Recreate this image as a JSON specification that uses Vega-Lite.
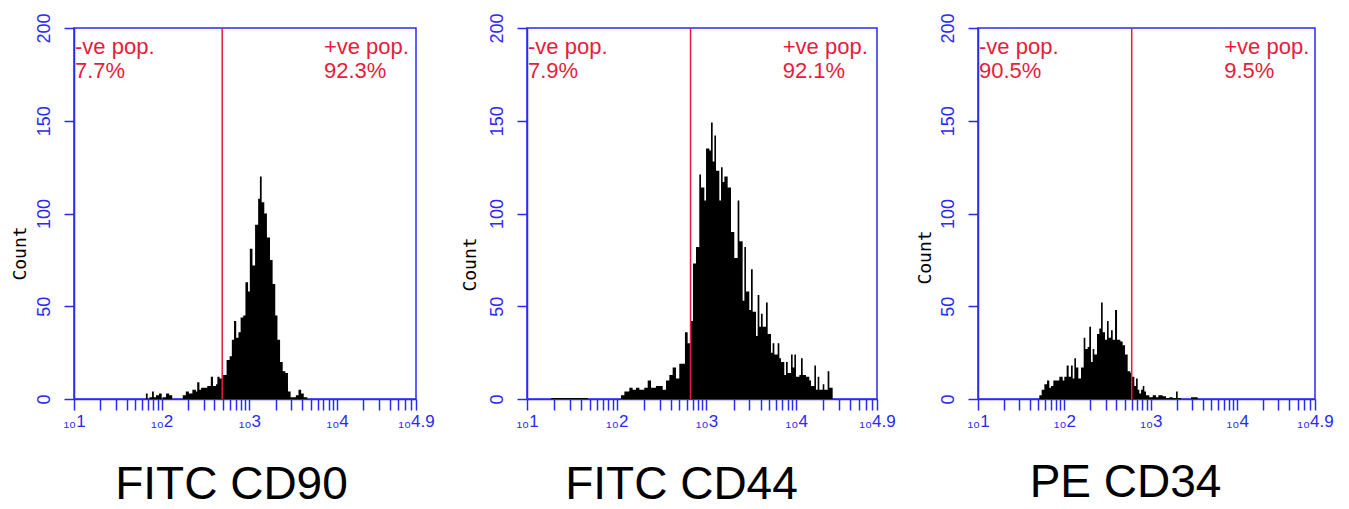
{
  "$schema": "https://vega.github.io/schema/vega-lite/v6.json",
  "padding": {"left": 10, "top": 12, "right": 0, "bottom": 0},
  "background": "white",
  "datasets": {
    "cd90": [
      {"log_intensity": 1.80, "count": 0}, {"log_intensity": 1.82, "count": 3}, {"log_intensity": 1.84, "count": 0},
      {"log_intensity": 1.86, "count": 1}, {"log_intensity": 1.89, "count": 4}, {"log_intensity": 1.91, "count": 1},
      {"log_intensity": 1.935, "count": 2}, {"log_intensity": 1.97, "count": 3}, {"log_intensity": 2.00, "count": 0},
      {"log_intensity": 2.01, "count": 1}, {"log_intensity": 2.05, "count": 3}, {"log_intensity": 2.085, "count": 2},
      {"log_intensity": 2.12, "count": 0}, {"log_intensity": 2.24, "count": 2}, {"log_intensity": 2.275, "count": 4},
      {"log_intensity": 2.31, "count": 3}, {"log_intensity": 2.35, "count": 5}, {"log_intensity": 2.39, "count": 4},
      {"log_intensity": 2.405, "count": 9}, {"log_intensity": 2.43, "count": 5}, {"log_intensity": 2.45, "count": 6},
      {"log_intensity": 2.49, "count": 6}, {"log_intensity": 2.52, "count": 7}, {"log_intensity": 2.56, "count": 12},
      {"log_intensity": 2.585, "count": 7}, {"log_intensity": 2.62, "count": 8}, {"log_intensity": 2.635, "count": 12},
      {"log_intensity": 2.66, "count": 11}, {"log_intensity": 2.70, "count": 13}, {"log_intensity": 2.74, "count": 21},
      {"log_intensity": 2.775, "count": 23}, {"log_intensity": 2.80, "count": 32}, {"log_intensity": 2.825, "count": 42},
      {"log_intensity": 2.85, "count": 33}, {"log_intensity": 2.875, "count": 36}, {"log_intensity": 2.90, "count": 44},
      {"log_intensity": 2.93, "count": 45}, {"log_intensity": 2.955, "count": 63}, {"log_intensity": 2.985, "count": 58},
      {"log_intensity": 3.005, "count": 81}, {"log_intensity": 3.035, "count": 72}, {"log_intensity": 3.065, "count": 94},
      {"log_intensity": 3.10, "count": 108}, {"log_intensity": 3.12, "count": 120}, {"log_intensity": 3.14, "count": 106},
      {"log_intensity": 3.17, "count": 100}, {"log_intensity": 3.20, "count": 87}, {"log_intensity": 3.235, "count": 75},
      {"log_intensity": 3.265, "count": 62}, {"log_intensity": 3.295, "count": 45}, {"log_intensity": 3.32, "count": 32},
      {"log_intensity": 3.35, "count": 20}, {"log_intensity": 3.38, "count": 15}, {"log_intensity": 3.41, "count": 14},
      {"log_intensity": 3.44, "count": 4}, {"log_intensity": 3.47, "count": 1}, {"log_intensity": 3.53, "count": 2},
      {"log_intensity": 3.56, "count": 5}, {"log_intensity": 3.59, "count": 3}, {"log_intensity": 3.62, "count": 1},
      {"log_intensity": 3.66, "count": 0}
    ],
    "cd44": [
      {"log_intensity": 1.27, "count": 0.6}, {"log_intensity": 1.68, "count": 0}, {"log_intensity": 2.047, "count": 2},
      {"log_intensity": 2.085, "count": 4}, {"log_intensity": 2.14, "count": 6}, {"log_intensity": 2.177, "count": 5},
      {"log_intensity": 2.214, "count": 6}, {"log_intensity": 2.252, "count": 5}, {"log_intensity": 2.307, "count": 6},
      {"log_intensity": 2.345, "count": 10}, {"log_intensity": 2.382, "count": 6}, {"log_intensity": 2.437, "count": 7},
      {"log_intensity": 2.474, "count": 7}, {"log_intensity": 2.512, "count": 5}, {"log_intensity": 2.549, "count": 10},
      {"log_intensity": 2.586, "count": 13}, {"log_intensity": 2.623, "count": 17}, {"log_intensity": 2.66, "count": 11},
      {"log_intensity": 2.697, "count": 19}, {"log_intensity": 2.735, "count": 19}, {"log_intensity": 2.76, "count": 36},
      {"log_intensity": 2.79, "count": 30}, {"log_intensity": 2.828, "count": 42}, {"log_intensity": 2.85, "count": 73},
      {"log_intensity": 2.883, "count": 82}, {"log_intensity": 2.92, "count": 121}, {"log_intensity": 2.939, "count": 114},
      {"log_intensity": 2.976, "count": 107}, {"log_intensity": 2.995, "count": 135}, {"log_intensity": 3.032, "count": 134},
      {"log_intensity": 3.05, "count": 149}, {"log_intensity": 3.069, "count": 128}, {"log_intensity": 3.088, "count": 142},
      {"log_intensity": 3.106, "count": 123}, {"log_intensity": 3.143, "count": 107}, {"log_intensity": 3.162, "count": 125},
      {"log_intensity": 3.18, "count": 117}, {"log_intensity": 3.199, "count": 120}, {"log_intensity": 3.236, "count": 114},
      {"log_intensity": 3.273, "count": 90}, {"log_intensity": 3.31, "count": 76}, {"log_intensity": 3.347, "count": 107},
      {"log_intensity": 3.366, "count": 85}, {"log_intensity": 3.403, "count": 53}, {"log_intensity": 3.422, "count": 82},
      {"log_intensity": 3.44, "count": 58}, {"log_intensity": 3.477, "count": 48}, {"log_intensity": 3.496, "count": 70},
      {"log_intensity": 3.515, "count": 47}, {"log_intensity": 3.552, "count": 34}, {"log_intensity": 3.57, "count": 56},
      {"log_intensity": 3.589, "count": 39}, {"log_intensity": 3.607, "count": 46}, {"log_intensity": 3.626, "count": 39},
      {"log_intensity": 3.663, "count": 52}, {"log_intensity": 3.682, "count": 35}, {"log_intensity": 3.719, "count": 25},
      {"log_intensity": 3.737, "count": 30}, {"log_intensity": 3.756, "count": 24}, {"log_intensity": 3.793, "count": 30},
      {"log_intensity": 3.812, "count": 22}, {"log_intensity": 3.83, "count": 20}, {"log_intensity": 3.867, "count": 13},
      {"log_intensity": 3.886, "count": 20}, {"log_intensity": 3.905, "count": 14}, {"log_intensity": 3.942, "count": 24},
      {"log_intensity": 3.96, "count": 17}, {"log_intensity": 3.979, "count": 24}, {"log_intensity": 3.997, "count": 12},
      {"log_intensity": 4.035, "count": 13}, {"log_intensity": 4.053, "count": 22}, {"log_intensity": 4.072, "count": 13},
      {"log_intensity": 4.109, "count": 12}, {"log_intensity": 4.146, "count": 10}, {"log_intensity": 4.165, "count": 7},
      {"log_intensity": 4.202, "count": 18}, {"log_intensity": 4.22, "count": 5}, {"log_intensity": 4.239, "count": 12},
      {"log_intensity": 4.257, "count": 5}, {"log_intensity": 4.295, "count": 8}, {"log_intensity": 4.313, "count": 5},
      {"log_intensity": 4.35, "count": 15}, {"log_intensity": 4.369, "count": 6}, {"log_intensity": 4.406, "count": 0}
    ],
    "cd34": [
      {"log_intensity": 1.71, "count": 2}, {"log_intensity": 1.737, "count": 5}, {"log_intensity": 1.768, "count": 8},
      {"log_intensity": 1.799, "count": 10}, {"log_intensity": 1.825, "count": 6}, {"log_intensity": 1.845, "count": 7},
      {"log_intensity": 1.872, "count": 10}, {"log_intensity": 1.903, "count": 10}, {"log_intensity": 1.941, "count": 12},
      {"log_intensity": 1.98, "count": 10}, {"log_intensity": 1.999, "count": 12}, {"log_intensity": 2.026, "count": 18},
      {"log_intensity": 2.049, "count": 12}, {"log_intensity": 2.076, "count": 18}, {"log_intensity": 2.096, "count": 11},
      {"log_intensity": 2.115, "count": 22}, {"log_intensity": 2.134, "count": 17}, {"log_intensity": 2.161, "count": 11},
      {"log_intensity": 2.192, "count": 17}, {"log_intensity": 2.223, "count": 33}, {"log_intensity": 2.242, "count": 27},
      {"log_intensity": 2.269, "count": 28}, {"log_intensity": 2.288, "count": 39}, {"log_intensity": 2.308, "count": 20},
      {"log_intensity": 2.327, "count": 27}, {"log_intensity": 2.346, "count": 24}, {"log_intensity": 2.377, "count": 35},
      {"log_intensity": 2.404, "count": 38}, {"log_intensity": 2.424, "count": 52}, {"log_intensity": 2.443, "count": 36},
      {"log_intensity": 2.47, "count": 32}, {"log_intensity": 2.493, "count": 42}, {"log_intensity": 2.512, "count": 33},
      {"log_intensity": 2.539, "count": 37}, {"log_intensity": 2.559, "count": 32}, {"log_intensity": 2.586, "count": 48},
      {"log_intensity": 2.609, "count": 32}, {"log_intensity": 2.647, "count": 31}, {"log_intensity": 2.674, "count": 29},
      {"log_intensity": 2.701, "count": 24}, {"log_intensity": 2.732, "count": 15}, {"log_intensity": 2.763, "count": 14},
      {"log_intensity": 2.782, "count": 12}, {"log_intensity": 2.809, "count": 7}, {"log_intensity": 2.829, "count": 11},
      {"log_intensity": 2.848, "count": 5}, {"log_intensity": 2.867, "count": 3}, {"log_intensity": 2.887, "count": 5},
      {"log_intensity": 2.906, "count": 7}, {"log_intensity": 2.925, "count": 4}, {"log_intensity": 2.944, "count": 2},
      {"log_intensity": 2.983, "count": 1}, {"log_intensity": 3.022, "count": 2}, {"log_intensity": 3.06, "count": 1},
      {"log_intensity": 3.087, "count": 2}, {"log_intensity": 3.137, "count": 1.5}, {"log_intensity": 3.176, "count": 0.5},
      {"log_intensity": 3.214, "count": 1}, {"log_intensity": 3.253, "count": 0.5}, {"log_intensity": 3.292, "count": 4},
      {"log_intensity": 3.311, "count": 0.5}, {"log_intensity": 3.349, "count": 0}, {"log_intensity": 3.465, "count": 1},
      {"log_intensity": 3.542, "count": 0}
    ],
    "gates": [
      {"marker": "FITC CD90", "gate": 2.69, "neg": 0.077, "pos": 0.923, "neg_at": 1, "pos_at": 3.85, "top": 200},
      {"marker": "FITC CD44", "gate": 2.822, "neg": 0.079, "pos": 0.921, "neg_at": 1, "pos_at": 3.85, "top": 200},
      {"marker": "PE CD34", "gate": 2.779, "neg": 0.905, "pos": 0.095, "neg_at": 1, "pos_at": 3.85, "top": 200}
    ]
  },
  "config": {
    "font": "Liberation Sans",
    "view": {"stroke": "#2a2af5", "strokeWidth": 1.5},
    "text": {"color": "#e81c3c", "fontSize": 22, "align": "left", "baseline": "alphabetic"},
    "axis": {
      "grid": false,
      "domainColor": "#2a2af5",
      "domainWidth": 1.5,
      "tickColor": "#2a2af5",
      "tickWidth": 1.5,
      "labelColor": "#2a2af5",
      "labelFont": "Liberation Sans",
      "titleColor": "black",
      "titleFontWeight": "normal"
    },
    "axisX": {
      "labelOverlap": false,
      "labelFlush": false,
      "labelBound": false,
      "labelFontSize": 17,
      "labelPadding": 3,
      "tickSize": 11,
      "titleFont": "Liberation Sans",
      "titleFontSize": 46,
      "titleAlign": "center",
      "titleBaseline": "alphabetic"
    },
    "axisY": {
      "labelAngle": 270,
      "labelAlign": "center",
      "labelBaseline": "bottom",
      "labelFontSize": 18,
      "labelPadding": 11,
      "tickSize": 10,
      "titleFont": "DejaVu Sans Mono",
      "titleFontSize": 18,
      "titleAngle": 270,
      "titleAlign": "center",
      "titleBaseline": "middle"
    }
  },
  "spacing": 111,
  "bounds": "flush",
  "hconcat": [
    {
      "width": 342,
      "height": 371,
      "encoding": {
        "x": {"field": "log_intensity", "type": "quantitative", "scale": {"domain": [1, 4.9], "nice": false, "zero": false},
          "axis": {"title": "FITC CD90", "titleX": 157, "titleY": 99,
            "values": [1, 1.301, 1.477, 1.602, 1.699, 1.778, 1.845, 1.903, 1.954, 2, 2.301, 2.477, 2.602, 2.699, 2.778, 2.845, 2.903, 2.954, 3, 3.301, 3.477, 3.602, 3.699, 3.778, 3.845, 3.903, 3.954, 4, 4.301, 4.477, 4.602, 4.699, 4.778, 4.845, 4.9],
            "labelExpr": "indexof([1, 2, 3, 4, 4.9], datum.value) >= 0 ? '₁₀' + datum.value : ''"}},
        "y": {"field": "count", "type": "quantitative", "scale": {"domain": [0, 200], "nice": false},
          "axis": {"title": "Count", "titleX": -54, "titleY": 225, "values": [0, 50, 100, 150, 200]}}
      },
      "layer": [
        {"data": {"name": "cd90"}, "mark": {"type": "area", "interpolate": "step-after", "color": "black"}},
        {
          "data": {"name": "gates"},
          "transform": [{"filter": "datum.marker == 'FITC CD90'"}, {"fold": ["gate"], "as": ["kind", "log_intensity"]}],
          "mark": {"type": "rule", "color": "#e81c3c", "strokeWidth": 1.5},
          "encoding": {"y": null}
        },
        {
          "data": {"name": "gates"},
          "transform": [{"filter": "datum.marker == 'FITC CD90'"}, {"fold": ["neg_at"], "as": ["side", "log_intensity"]}, {"fold": ["top"], "as": ["level", "count"]}],
          "layer": [
            {"mark": {"type": "text", "dx": 1, "dy": 26}, "encoding": {"text": {"value": "-ve pop."}}},
            {"mark": {"type": "text", "dx": 1, "dy": 50}, "encoding": {"text": {"field": "neg", "type": "quantitative", "format": ".1%"}}}
          ]
        },
        {
          "data": {"name": "gates"},
          "transform": [{"filter": "datum.marker == 'FITC CD90'"}, {"fold": ["pos_at"], "as": ["side", "log_intensity"]}, {"fold": ["top"], "as": ["level", "count"]}],
          "layer": [
            {"mark": {"type": "text", "dy": 26}, "encoding": {"text": {"value": "+ve pop."}}},
            {"mark": {"type": "text", "dy": 50}, "encoding": {"text": {"field": "pos", "type": "quantitative", "format": ".1%"}}}
          ]
        }
      ]
    },
    {
      "spacing": 101,
      "bounds": "flush",
      "hconcat": [
        {
          "width": 350,
          "height": 371,
          "encoding": {
            "x": {"field": "log_intensity", "type": "quantitative", "scale": {"domain": [1, 4.9], "nice": false, "zero": false},
              "axis": {"title": "FITC CD44", "titleX": 154, "titleY": 99,
                "values": [1, 1.301, 1.477, 1.602, 1.699, 1.778, 1.845, 1.903, 1.954, 2, 2.301, 2.477, 2.602, 2.699, 2.778, 2.845, 2.903, 2.954, 3, 3.301, 3.477, 3.602, 3.699, 3.778, 3.845, 3.903, 3.954, 4, 4.301, 4.477, 4.602, 4.699, 4.778, 4.845, 4.9],
                "labelExpr": "indexof([1, 2, 3, 4, 4.9], datum.value) >= 0 ? '₁₀' + datum.value : ''"}},
            "y": {"field": "count", "type": "quantitative", "scale": {"domain": [0, 200], "nice": false},
              "axis": {"title": "Count", "titleX": -57, "titleY": 236, "values": [0, 50, 100, 150, 200]}}
          },
          "layer": [
            {"data": {"name": "cd44"}, "mark": {"type": "area", "interpolate": "step-after", "color": "black"}},
            {
              "data": {"name": "gates"},
              "transform": [{"filter": "datum.marker == 'FITC CD44'"}, {"fold": ["gate"], "as": ["kind", "log_intensity"]}],
              "mark": {"type": "rule", "color": "#e81c3c", "strokeWidth": 1.5},
              "encoding": {"y": null}
            },
            {
              "data": {"name": "gates"},
              "transform": [{"filter": "datum.marker == 'FITC CD44'"}, {"fold": ["neg_at"], "as": ["side", "log_intensity"]}, {"fold": ["top"], "as": ["level", "count"]}],
              "layer": [
                {"mark": {"type": "text", "dx": 1, "dy": 26}, "encoding": {"text": {"value": "-ve pop."}}},
                {"mark": {"type": "text", "dx": 1, "dy": 50}, "encoding": {"text": {"field": "neg", "type": "quantitative", "format": ".1%"}}}
              ]
            },
            {
              "data": {"name": "gates"},
              "transform": [{"filter": "datum.marker == 'FITC CD44'"}, {"fold": ["pos_at"], "as": ["side", "log_intensity"]}, {"fold": ["top"], "as": ["level", "count"]}],
              "layer": [
                {"mark": {"type": "text", "dy": 26}, "encoding": {"text": {"value": "+ve pop."}}},
                {"mark": {"type": "text", "dy": 50}, "encoding": {"text": {"field": "pos", "type": "quantitative", "format": ".1%"}}}
              ]
            }
          ]
        },
        {
          "width": 337,
          "height": 371,
          "encoding": {
            "x": {"field": "log_intensity", "type": "quantitative", "scale": {"domain": [1, 4.9], "nice": false, "zero": false},
              "axis": {"title": "PE CD34", "titleX": 147, "titleY": 97,
                "values": [1, 1.301, 1.477, 1.602, 1.699, 1.778, 1.845, 1.903, 1.954, 2, 2.301, 2.477, 2.602, 2.699, 2.778, 2.845, 2.903, 2.954, 3, 3.301, 3.477, 3.602, 3.699, 3.778, 3.845, 3.903, 3.954, 4, 4.301, 4.477, 4.602, 4.699, 4.778, 4.845, 4.9],
                "labelExpr": "indexof([1, 2, 3, 4, 4.9], datum.value) >= 0 ? '₁₀' + datum.value : ''"}},
            "y": {"field": "count", "type": "quantitative", "scale": {"domain": [0, 200], "nice": false},
              "axis": {"title": "Count", "titleX": -53, "titleY": 229, "values": [0, 50, 100, 150, 200]}}
          },
          "layer": [
            {"data": {"name": "cd34"}, "mark": {"type": "area", "interpolate": "step-after", "color": "black"}},
            {
              "data": {"name": "gates"},
              "transform": [{"filter": "datum.marker == 'PE CD34'"}, {"fold": ["gate"], "as": ["kind", "log_intensity"]}],
              "mark": {"type": "rule", "color": "#e81c3c", "strokeWidth": 1.5},
              "encoding": {"y": null}
            },
            {
              "data": {"name": "gates"},
              "transform": [{"filter": "datum.marker == 'PE CD34'"}, {"fold": ["neg_at"], "as": ["side", "log_intensity"]}, {"fold": ["top"], "as": ["level", "count"]}],
              "layer": [
                {"mark": {"type": "text", "dx": 1, "dy": 26}, "encoding": {"text": {"value": "-ve pop."}}},
                {"mark": {"type": "text", "dx": 1, "dy": 50}, "encoding": {"text": {"field": "neg", "type": "quantitative", "format": ".1%"}}}
              ]
            },
            {
              "data": {"name": "gates"},
              "transform": [{"filter": "datum.marker == 'PE CD34'"}, {"fold": ["pos_at"], "as": ["side", "log_intensity"]}, {"fold": ["top"], "as": ["level", "count"]}],
              "layer": [
                {"mark": {"type": "text", "dy": 26}, "encoding": {"text": {"value": "+ve pop."}}},
                {"mark": {"type": "text", "dy": 50}, "encoding": {"text": {"field": "pos", "type": "quantitative", "format": ".1%"}}}
              ]
            }
          ]
        }
      ]
    }
  ]
}
